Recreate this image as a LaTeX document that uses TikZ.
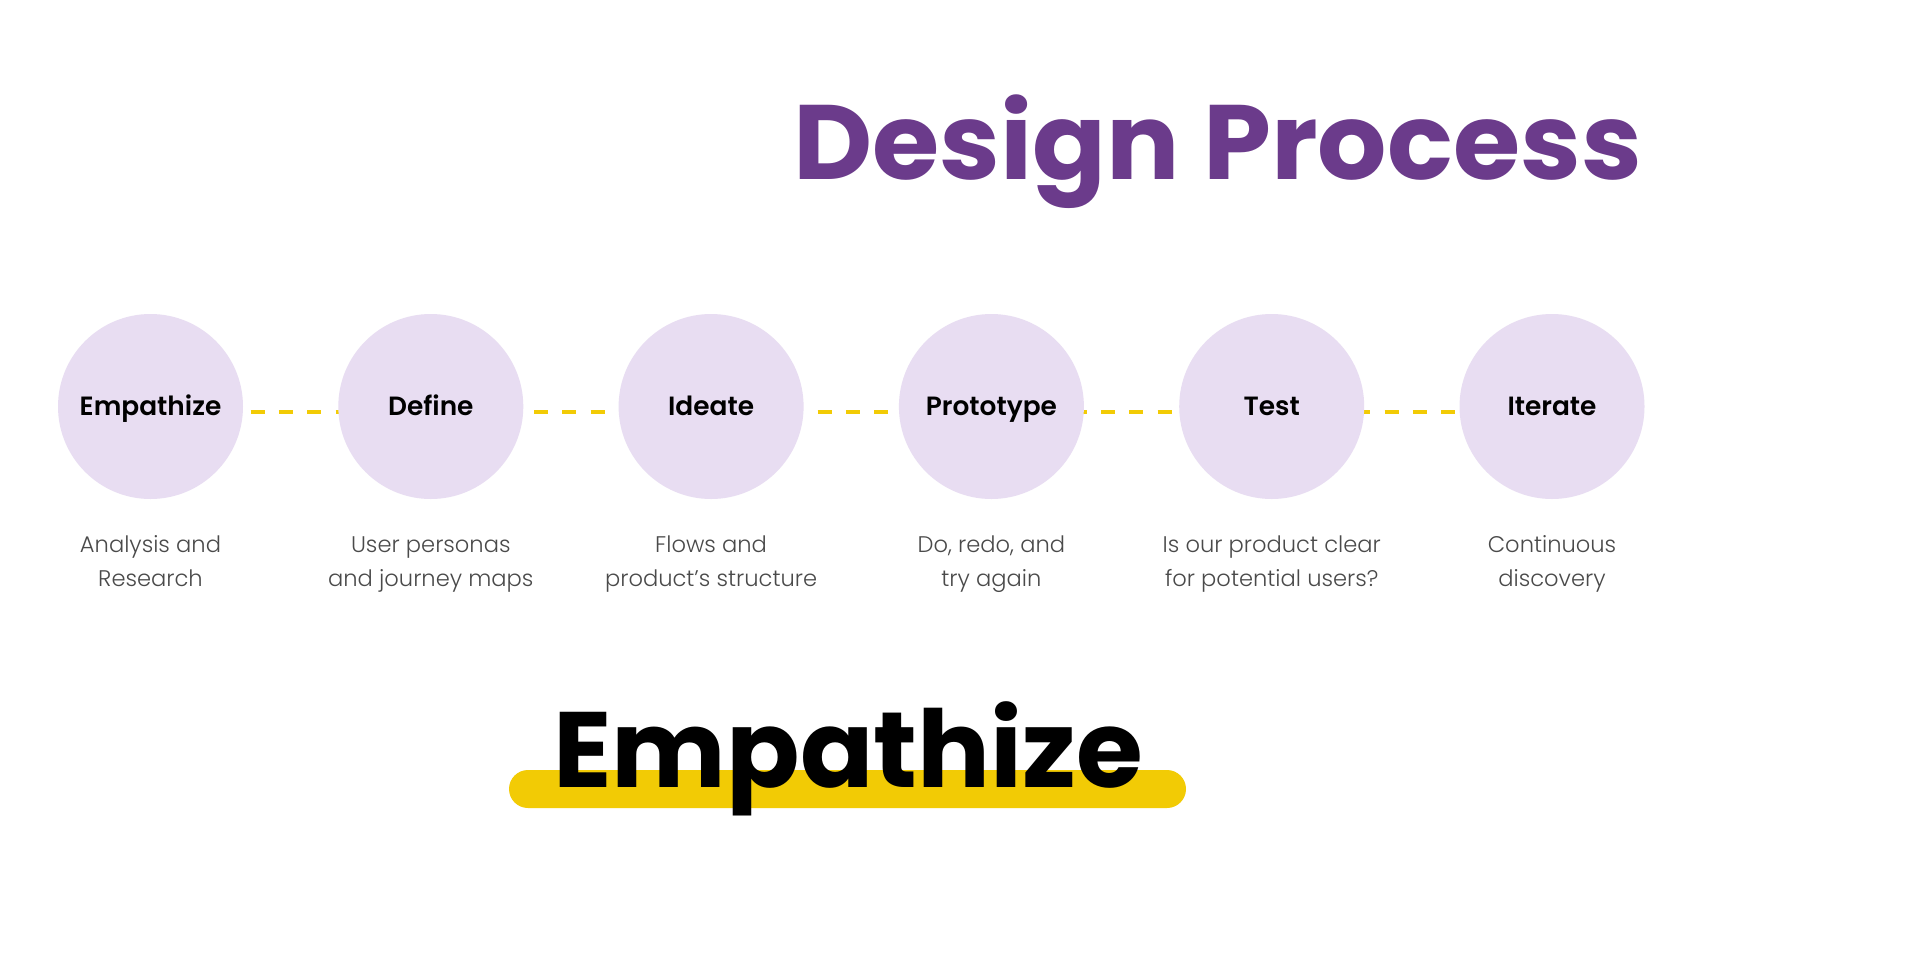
\documentclass[tikz,border=0pt]{standalone}
\usepackage{fontspec}
\setmainfont{Poppins}
\newfontfamily\popbold{Poppins Bold}
\newfontfamily\popsemi{Poppins SemiBold}
\newfontfamily\poplight{Poppins Light}
\usetikzlibrary{backgrounds}
\definecolor{circ}{HTML}{E8DDF2}
\definecolor{purp}{HTML}{6B3B8B}
\definecolor{yel}{HTML}{F2CB05}
\definecolor{desc}{HTML}{4A4A4A}
\begin{document}
\begin{tikzpicture}[x=0.5pt,y=-0.5pt,
  stage/.style={circle, fill=circ, minimum size=92.5pt, inner sep=0pt,
    font=\popsemi\fontsize{13.2}{15}\selectfont, text=black,
    text height=9.2pt, text depth=0pt},
  desctext/.style={anchor=base, align=center, inner sep=0pt,
    font=\poplight\fontsize{11.3}{16.65}\selectfont, text=desc},
  dashline/.style={draw=yel, line width=2pt,
    dash pattern=on 7pt off 7.175pt, dash phase=6.7pt},
  bigtext/.style={anchor=base west, inner sep=0pt}
]
\useasboundingbox (0,0) rectangle (1920,959);

% title
\node[bigtext, xscale=1.03, font=\popbold\fontsize{52.9}{60}\selectfont, text=purp] (title) at (793,179.5) {Design Process};

% stages
\node[stage] (c1) at (150.5,406.5) {Empathize};
\node[stage] (c2) at (430.8,406.5) {Define};
\node[stage] (c3) at (711.1,406.5) {Ideate};
\node[stage] (c4) at (991.4,406.5) {Prototype};
\node[stage] (c5) at (1271.7,406.5) {Test};
\node[stage] (c6) at (1552,406.5) {Iterate};

\begin{pgfonlayer}{background}
\fill[white] (0,0) rectangle (1920,959);
\draw[dashline] ([yshift=-2.75pt]c1.center) -- ([yshift=-2.75pt]c6.center);
\end{pgfonlayer}

% descriptions (base = last line)
\node[desctext] (d1) at (150.5,586) {Analysis and\\Research};
\node[desctext] (d2) at (430.8,586) {User personas\\and journey maps};
\node[desctext] (d3) at (711.1,586) {Flows and\\product’s structure};
\node[desctext] (d4) at (991.4,586) {Do, redo, and\\try again};
\node[desctext] (d5) at (1271.7,586) {Is our product clear\\for potential users?};
\node[desctext] (d6) at (1552,586) {Continuous\\discovery};

% highlighted heading
\fill[yel, rounded corners=9.5pt] (509,770) rectangle (1186,808);
\node[bigtext, xscale=1.01, font=\popbold\fontsize{53.6}{60}\selectfont, text=black] (big) at (553,787) {Empathize};
\end{tikzpicture}
\end{document}
